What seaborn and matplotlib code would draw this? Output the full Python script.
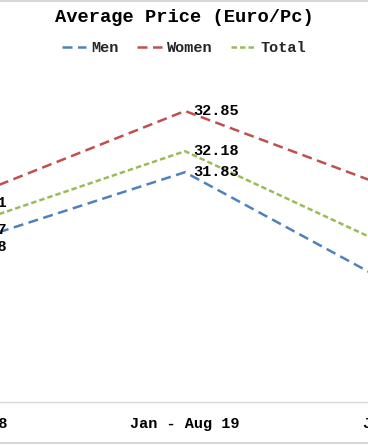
import matplotlib
matplotlib.use("Agg")
import matplotlib.pyplot as plt
from matplotlib.lines import Line2D
import seaborn as sns
import pandas as pd

periods = ["Jan - Aug 18", "Jan - Aug 19", "Jan - Aug 20"]
men = [30.58, 31.83, 29.73]
women = [31.31, 32.85, 31.40]
total = [30.87, 32.18, 30.38]

series_names = ["Men", "Women", "Total"]
colors = {"Men": "#4F81BD", "Women": "#C0504D", "Total": "#9BBB59"}
dash_styles = {"Men": (4, 2.2), "Women": (4, 2.2), "Total": (2.2, 1.2)}

df = pd.DataFrame({
    "Period": periods * 3,
    "Series": ["Men"] * 3 + ["Women"] * 3 + ["Total"] * 3,
    "Price": men + women + total,
})

sns.set_theme(style="white")
plt.rcParams["font.family"] = ["Liberation Mono", "DejaVu Sans"]
plt.rcParams["font.weight"] = "bold"

W, H = 368, 445
fig = plt.figure(figsize=(W / 100, H / 100), dpi=100)
px_left, px_right = -80, 450
ax = fig.add_axes([px_left / W, 43 / H, (px_right - px_left) / W, 360 / H])

sns.lineplot(data=df, x="Period", y="Price", hue="Series", style="Series",
             palette=colors, dashes=dash_styles, linewidth=1.8, ax=ax,
             legend=False, sort=False)

for name, vals in zip(series_names, [men, women, total]):
    for p, v in zip(periods, vals):
        ax.annotate(f"{v:.2f}", xy=(p, v), xytext=(6, 0), textcoords="offset points",
                    ha="left", va="center", fontsize=11, fontweight="bold",
                    color="#000000", annotation_clip=False)

step = 232.5
center_px = 185
ax.set_xlim(1 + (px_left - center_px) / step, 1 + (px_right - center_px) / step)
ax.set_ylim(28, 34)
ax.set_yticks([])
ax.set_xlabel("")
ax.set_ylabel("")
for s in ["top", "left", "right"]:
    ax.spines[s].set_visible(False)
ax.spines["bottom"].set_color("#D9D9D9")
ax.spines["bottom"].set_linewidth(1.0)
ax.tick_params(axis="x", length=0, pad=11, labelsize=11, colors="#000000")
for lbl in ax.get_xticklabels():
    lbl.set_fontweight("bold")

fig.text(0.5, 1 - 18 / H, "Average Price (Euro/Pc)", ha="center", va="center",
         fontsize=13.5, fontweight="bold", color="#000000")

handles = [Line2D([0], [0], color=colors[n], lw=1.8, dashes=dash_styles[n]) for n in series_names]
fig.legend(handles, series_names, loc="center", bbox_to_anchor=(0.5, 1 - 48 / H),
           ncol=3, frameon=False, fontsize=11, handlelength=1.6, handletextpad=0.35,
           columnspacing=1.2, prop={"weight": "bold", "size": 11})

fig.add_artist(Line2D([0, 1], [1 - 1 / H, 1 - 1 / H], transform=fig.transFigure,
                      color="#D0D0D0", lw=1.2))
fig.add_artist(Line2D([0, 1], [2 / H, 2 / H], transform=fig.transFigure,
                      color="#D0D0D0", lw=1.2))

fig.savefig("out.png", dpi=100, facecolor="white")
